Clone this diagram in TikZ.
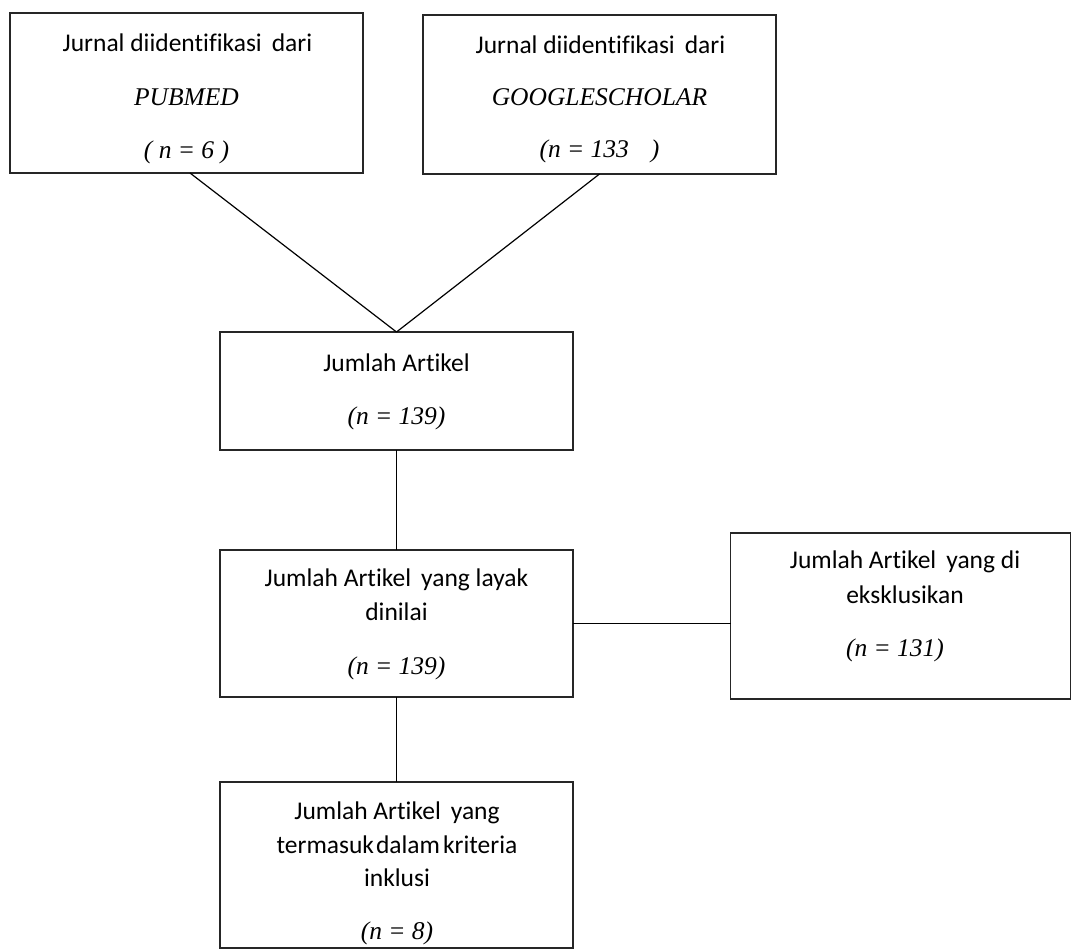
\documentclass[tikz,border=0pt]{standalone}
\usepackage{fontspec}
\setmainfont{Carlito}[Ligatures={NoCommon}]
\newfontfamily\tms{Liberation Serif}
\begin{document}
\begin{tikzpicture}[x=1pt,y=-1pt,
  box/.style={draw=black!85,line width=1.2pt,rectangle,inner sep=0pt,outer sep=0pt},
  txt/.style={font=\fontsize{25.5}{30}\selectfont,inner sep=0pt,anchor=center},
  itx/.style={font=\fontsize{25.5}{29}\selectfont\tms\itshape,inner sep=0pt,anchor=center},
  conn/.style={draw=black,line width=1.2pt}]
\useasboundingbox (0,0) rectangle (1072,950);
% boxes
\node[box,minimum width=353pt,minimum height=160pt] (b1) at (186.5,93) {};
\node[box,minimum width=353pt,minimum height=159pt] (b2) at (599.5,94.5) {};
\node[box,minimum width=353pt,minimum height=118pt] (b3) at (396.5,391) {};
\node[box,minimum width=353pt,minimum height=147pt] (b4) at (396.5,623.5) {};
\node[box,minimum width=340pt,minimum height=166pt] (b5) at (900.5,616) {};
\node[box,minimum width=353pt,minimum height=166pt] (b6) at (396.5,865) {};
% texts
\node[txt] (t11) at (187.5,43) {Jurnal diidentifikasi\, dari};
\node[itx] (t12) at (186.5,97) {PUBMED};
\node[itx] (t13) at (186.5,152) {( n = 6 )};
\node[txt] (t21) at (600.5,45) {Jurnal diidentifikasi\, dari};
\node[itx] (t22) at (599.5,97) {GOOGLESCHOLAR};
\node[itx] (t23) at (599.5,151) {(n = 133\hspace{22pt})};
\node[txt] (t31) at (396.5,363) {Jumlah Artikel};
\node[itx] (t32) at (396.5,418) {(n = 139)};
\node[txt] (t41) at (396.5,580) {Jumlah Artikel\, yang layak};
\node[txt] (t42) at (396.5,612) {dinilai};
\node[itx] (t43) at (396.5,668) {(n = 139)};
\node[txt] (t51) at (905,562) {Jumlah Artikel\, yang di};
\node[txt] (t52) at (905,595) {eksklusikan};
\node[itx] (t53) at (895,650) {(n = 131)};
\node[txt] (t61) at (397,813) {Jumlah Artikel\, yang};
\node[txt] (t62) at (397,845) {termasuk\hspace{2pt}dalam\hspace{3pt}kriteria};
\node[txt] (t63) at (397,878) {inklusi};
\node[itx] (t64) at (397,933) {(n = 8)};
% connectors
\draw[conn] ([xshift=3.5pt]b1.south) -- (b3.north);
\draw[conn] (b2.south) -- (b3.north);
\draw[conn] (b3.south) -- (b4.north);
\draw[conn] (b4.east) -- (b4.east -| b5.west);
\draw[conn,line width=1.7pt] (b4.south) -- (b6.north);
\end{tikzpicture}
\end{document}
